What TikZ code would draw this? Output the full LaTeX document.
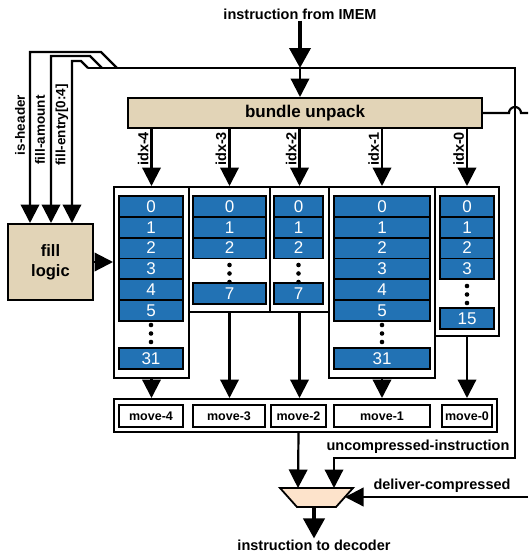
\documentclass[tikz,border=0pt]{standalone}
\usepackage{fontspec}
\setmainfont{Liberation Sans}
\usetikzlibrary{arrows.meta}
\definecolor{unpacktan}{HTML}{E2D4B7}
\definecolor{cellblue}{HTML}{2272B4}
\definecolor{muxpeach}{HTML}{FDE3CB}

\begin{document}
\begin{tikzpicture}[x=1pt, y=1pt,
  box/.style={draw, line width=2pt, inner sep=0pt},
  cell/.style={draw, line width=1.8pt, fill=cellblue, text=white, inner sep=0pt,
    minimum height=20.8pt, font=\fontsize{17}{17}\selectfont},
  movecell/.style={box, line width=1.8pt, minimum height=22pt, font=\fontsize{12.5}{14}\selectfont\bfseries},
  wire/.style={line width=2.2pt},
  arr/.style={wire, -{Triangle[length=18.5pt,width=18.5pt]}},
  bigarr/.style={line width=3.8pt, -{Triangle[length=20pt,width=21pt]}},
  lbl/.style={font=\fontsize{14.5}{16}\selectfont\bfseries, inner sep=1pt},
  sidelbl/.style={font=\fontsize{13.5}{15}\selectfont\bfseries, inner sep=1pt, rotate=90},
  idxlbl/.style={lbl, rotate=90, anchor=south, pos=0.35, inner sep=2pt}]

  \useasboundingbox (0,0) rectangle (528,-557);

  % --- input and bundle unpack ---
  \node[lbl] (imem) at (300,-14) {instruction from IMEM};
  \coordinate (busL) at (88,-68);
  \coordinate (busR) at (515,-68);
  \coordinate (busin) at (300,-68);
  \node[box, fill=unpacktan, minimum width=354pt, minimum height=30pt, font=\fontsize{17}{19}\selectfont\bfseries]
    (unpack) at (305,-113) {bundle unpack};
  \coordinate (unpackout) at (528,-113);

  \draw[bigarr] (imem.south) -- (busin);
  \draw[arr] (busin) -- (busin |- unpack.north);

  % --- fill logic ---
  \node[box, fill=unpacktan, minimum width=85pt, minimum height=76pt, align=center,
    font=\fontsize{16.5}{20}\selectfont\bfseries] (fill) at (50.5,-262) {fill\\logic};

  \draw[arr] (117,-68) -- (101,-52) -- (30,-52) -- (30,-52 |- fill.north);
  \draw[arr] (102,-68) -- (90,-56) -- (51,-56) -- (51,-56 |- fill.north);
  \draw[arr] (busL) -- (81,-61) -- (72,-61) -- (72,-61 |- fill.north);
  \node[sidelbl] (ishdr) at (20,-125) {is-header};
  \node[sidelbl] (fillamt) at (40,-130) {fill-amount};
  \node[sidelbl] (fillent) at (62,-125) {fill-entry[0:4]};

  % --- banks ---
  \node[box, minimum width=75pt, minimum height=191pt] (bank4) at (151.5,-282.5) {};
  \node[box, minimum width=81pt, minimum height=125pt] (bank3) at (229.5,-249.5) {};
  \node[box, minimum width=59pt, minimum height=125pt] (bank2) at (299.5,-249.5) {};
  \node[box, minimum width=106pt, minimum height=191pt] (bank1) at (382,-282.5) {};
  \node[box, minimum width=64pt, minimum height=149pt] (bank0) at (467,-261.5) {};

  \foreach \i in {0,...,5} {
    \node[cell, minimum width=64pt] (b4c\i) at (151,{-206.4-20.83*\i}) {\i};
    \node[cell, minimum width=96pt] (b1c\i) at (382,{-206.4-20.83*\i}) {\i};
  }
  \foreach \i in {0,1,2} {
    \node[cell, minimum width=73pt] (b3c\i) at (229.5,{-206.4-20.83*\i}) {\i};
    \node[cell, minimum width=49pt] (b2c\i) at (298.5,{-206.4-20.83*\i}) {\i};
  }
  \foreach \i in {0,...,3}
    \node[cell, minimum width=54pt] (b0c\i) at (467,{-206.4-20.83*\i}) {\i};
  \node[cell, minimum width=64pt] (b4last) at (151,-358.5) {31};
  \node[cell, minimum width=96pt] (b1last) at (382,-358.5) {31};
  \node[cell, minimum width=73pt] (b3last) at (229.5,-293.7) {7};
  \node[cell, minimum width=49pt] (b2last) at (298.5,-293.7) {7};
  \node[cell, minimum width=54pt] (b0last) at (467,-318.5) {15};

  % dots
  \foreach \x/\y in {151/-325, 382/-325, 229.5/-265, 298.5/-265, 467/-286}
    \foreach \k in {0,1,2}
      \fill (\x,{\y-8.5*\k}) circle (2.3pt);

  \draw[arr] (fill.east) -- (fill.east -| bank4.west);

  \foreach \b in {4,3,2,1,0}
    \draw[arr] (bank\b.north |- unpack.south) -- node[idxlbl] {idx-\b} (bank\b.north);

  % --- move ---
  \node[box, minimum width=383pt, minimum height=33pt] (movebox) at (305.5,-415.5) {};
  \node[movecell, minimum width=64pt] (move4) at (151,-416) {move-4};
  \node[movecell, minimum width=72pt] (move3) at (229,-416) {move-3};
  \node[movecell, minimum width=55pt] (move2) at (298.5,-416) {move-2};
  \node[movecell, minimum width=96pt] (move1) at (382,-416) {move-1};
  \node[movecell, minimum width=50pt] (move0) at (467,-416) {move-0};

  \foreach \b in {4,3,2,1,0}
    \draw[arr] (bank\b.south) -- (bank\b.south |- movebox.north);

  % --- mux ---
  \coordinate (muxTL) at (280,-488);
  \coordinate (muxTR) at (353,-488);
  \coordinate (muxBR) at (336,-507);
  \coordinate (muxBL) at (297,-507);
  \coordinate (muxin1) at (298,-488);
  \coordinate (muxin2) at (334,-488);
  \coordinate (muxsel) at (345,-497);
  \coordinate (muxout) at (314,-507);
  \coordinate (selin) at (528,-497);
  \draw[line width=1.8pt, fill=muxpeach] (muxTL) -- (muxTR) -- (muxBR) -- (muxBL) -- cycle;

  \draw[arr] (move2 |- movebox.south) -- (muxin1);
  \draw[arr] (busL) -- (busR) -- (515,-458) -- (334,-458) -- (muxin2);
  \node[lbl] (uncomp) at (418,-447) {uncompressed-instruction};
  \draw[arr] (selin) -- (muxsel);
  \node[lbl] (deliver) at (442,-486) {deliver-compressed};
  \node[lbl] (decoder) at (314,-545) {instruction to decoder};
  \draw[bigarr] (muxout) -- (decoder.north);

  % --- unpack output with hop ---
  \draw[wire] (unpack.east) -- (509,-113) arc[start angle=180, end angle=0, radius=6pt] -- (unpackout);

\end{tikzpicture}
\end{document}
